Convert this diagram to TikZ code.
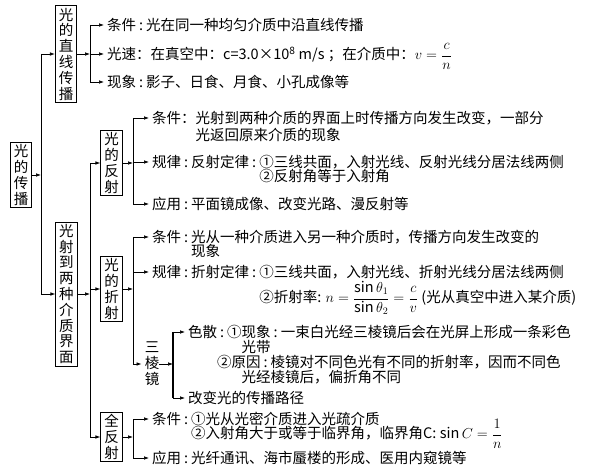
\documentclass[tikz,border=0pt]{standalone}
\usepackage{fontspec}
\setmainfont{Noto Sans CJK SC}
\usepackage{amsmath}
\usetikzlibrary{arrows.meta}

\newcommand{\hcol}{\hspace{3pt}:\hspace{3pt}}

\tikzset{
  vbox/.style={draw, line width=0.7pt, inner xsep=3.5pt, inner ysep=2pt, align=center, font=\fontsize{14.5}{15.8}\selectfont},
  vtxt/.style={inner sep=0pt, align=center, font=\fontsize{14.5}{16}\selectfont},
  txt/.style={anchor=west, inner sep=0pt, text height=12pt, text depth=1pt, font=\fontsize{14.5}{16}\selectfont},
  arr/.style={-{Latex[length=5pt,width=3.6pt]}, line width=0.7pt},
  twig/.style={arr, shorten >=3pt},
  trunk/.style={line width=0.7pt},
  bold trunk/.style={line width=1.6pt},
}

\begin{document}
\begin{tikzpicture}[x=1pt,y=-1pt]
\useasboundingbox (0,0) rectangle (598,468);

% boxes
\node[vbox] (root) at (21,175) {光\\的\\传\\播};
\node[vbox] (line) at (66,54) {光\\的\\直\\线\\传\\播};
\node[vbox] (face) at (66.5,294) {光\\射\\到\\两\\种\\介\\质\\界\\面};
\node[vbox] (refl) at (111.5,163) {光\\的\\反\\射};
\node[vbox] (refr) at (111.5,289) {光\\的\\折\\射};
\node[vbox] (total) at (111.5,437) {全\\反\\射};
\node[vtxt] (prism) at (152,364) {三\\棱\\镜};

% straight line
\node[txt] (l1) at (107,25) {条件\hcol 光在同一种均匀介质中沿直线传播};
\node[txt] (l2) at (107,54) {光速：在真空中：c=3.0×10\textsuperscript{8}\ m/s ；在介质中：$v=\dfrac{c}{n}$};
\node[txt] (l3) at (107,82) {现象\hcol 影子、日食、月食、小孔成像等};

% reflection
\node[txt] (rl1) at (152,118) {条件：光射到两种介质的界面上时传播方向发生改变，一部分};
\node[txt] (rl1b) at (152,135) {\phantom{条件：}光返回原来介质的现象};
\node[txt] (rl2) at (152,162) {规律\hcol 反射定律\hcol ①三线共面，入射光线、反射光线分居法线两侧};
\node[txt] (rl2b) at (152,176) {\phantom{规律\hcol 反射定律\hcol}②反射角等于入射角};
\node[txt] (rl3) at (152,204) {应用\hcol 平面镜成像、改变光路、漫反射等};

% refraction
\node[txt] (rr1) at (152,237) {条件\hcol 光从一种介质进入另一种介质时，传播方向发生改变的};
\node[txt] (rr1b) at (152,251) {\phantom{条件\hcol}现象};
\node[txt] (rr2) at (152,272) {规律\hcol 折射定律\hcol ①三线共面，入射光线、折射光线分居法线两侧};
\node[txt] (rr2b) at (152,297) {\phantom{规律\hcol 折射定律\hcol}②折射率: $n=\dfrac{\sin\theta_1}{\sin\theta_2}=\dfrac{c}{v}$ (光从真空中进入某介质)};

% prism
\node[txt] (pr1) at (188,332) {色散\hcol ①现象\hcol 一束白光经三棱镜后会在光屏上形成一条彩色};
\node[txt] (pr1b) at (188,347) {\phantom{色散\hcol ①}光带};
\node[txt] (pr1c) at (188,362) {\phantom{色散}②原因\hcol 棱镜对不同色光有不同的折射率，因而不同色};
\node[txt] (pr1d) at (188,377) {\phantom{色散\hcol ①}光经棱镜后，偏折角不同};
\node[txt] (pr2) at (188,398) {改变光的传播路径};

% total reflection
\node[txt] (tr1) at (152,419) {条件\hcol ①光从光密介质进入光疏介质};
\node[txt] (tr1b) at (152,433) {\phantom{条件\hcol}②入射角大于或等于临界角，临界角C: $\sin C=\dfrac{1}{n}$};
\node[txt] (tr2) at (152,458) {应用\hcol 光纤通讯、海市蜃楼的形成、医用内窥镜等};

% root trunk
\coordinate (at) at (41,54);
\coordinate (ab) at (41,294);
\draw[trunk] (at) -- (ab);
\draw[arr] (root.east) -- (root.east -| at);
\draw[arr] (at) -- (line.west);
\draw[arr] (ab) -- (face.west);

% straight line trunk
\coordinate (bt) at (90,25);
\coordinate (bb) at (90,82);
\draw[trunk] (bt) -- (bb);
\draw[arr] (line.east) -- (line.east -| bt);
\foreach \n in {l1,l2,l3}
  \draw[twig] (\n.west -| bt) -- (\n.west);

% interface trunk
\coordinate (ct) at (90,163);
\coordinate (cb) at (90,437);
\draw[trunk] (ct) -- (cb);
\draw[arr] (face.east) -- (face.east -| ct);
\foreach \n in {refl,refr,total}
  \draw[arr] (\n.west -| ct) -- (\n.west);

% reflection trunk
\coordinate (dt) at (133,118);
\coordinate (db) at (133,204);
\draw[trunk] (dt) -- (db);
\draw[arr] (refl.east) -- (refl.east -| dt);
\foreach \n in {rl1,rl2,rl3}
  \draw[twig] (\n.west -| dt) -- (\n.west);

% refraction trunk
\coordinate (et) at (133,237);
\coordinate (eb) at (133,364);
\draw[trunk] (et) -- (eb);
\draw[arr] (refr.east) -- (refr.east -| et);
\foreach \n in {rr1,rr2,prism}
  \draw[twig] (\n.west -| et) -- (\n.west);

% prism trunk
\coordinate (ft) at (173,332);
\coordinate (fb) at (173,398);
\draw[bold trunk] (ft) -- (fb);
\draw[arr] (prism.east) -- (prism.east -| ft);
\foreach \n in {pr1,pr2}
  \draw[twig] (\n.west -| ft) -- (\n.west);

% total reflection trunk
\coordinate (gt) at (133,419);
\coordinate (gb) at (133,458);
\draw[trunk] (gt) -- (gb);
\draw[arr] (total.east) -- (total.east -| gt);
\foreach \n in {tr1,tr2}
  \draw[twig] (\n.west -| gt) -- (\n.west);
\end{tikzpicture}
\end{document}
